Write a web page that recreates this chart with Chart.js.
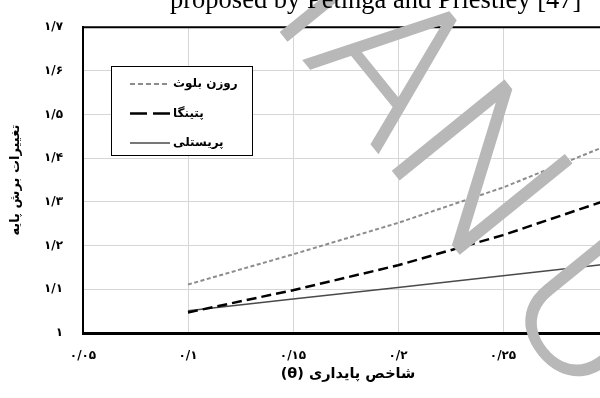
<!DOCTYPE html>
<html>
<head>
<meta charset="utf-8">
<script src="https://cdn.jsdelivr.net/npm/chart.js@4"></script>
<style>
    html, body { margin: 0; padding: 0; background: #fff; overflow: hidden; }
    #wrap { width: 600px; height: 398px; overflow: hidden; }
</style>
</head>
<body>
<div id="wrap"><canvas id="myChart" width="760" height="398"></canvas></div>
<script>
// stability index and base shear ratio for the three methods
const THETA = [0.1, 0.15, 0.2, 0.25, 0.3];
const ROSENBLUETH = [1.111, 1.18, 1.252, 1.333, 1.43];
const PETINGA = [1.047, 1.098, 1.155, 1.224, 1.305];
const PRIESTLEY = [1.051, 1.078, 1.104, 1.131, 1.158];
const SERIES_NAMES = ['روزن بلوث', 'پتینگا', 'پریستلی'];

const X_TICKS = ['۰/۰۵', '۰/۱', '۰/۱۵', '۰/۲', '۰/۲۵', '۰/۳', '۰/۳۵'];
const Y_TICKS = ['۱', '۱/۱', '۱/۲', '۱/۳', '۱/۴', '۱/۵', '۱/۶', '۱/۷'];
const X_TITLE = 'شاخص پایداری (θ)';
const Y_TITLE = 'تغییرات برش پایه';
const CAPTION = 'proposed by Petinga and Priestley [47]';
const WATERMARK = ['ACCEPTED MAN', 'USCRIPT'];

const FONT = "'DejaVu Sans', sans-serif";

function toPoints(values) {
    return THETA.map((t, i) => ({ x: t, y: values[i] }));
}

// legend box drawn inside the plot, sample line left of the name
const legendBox = {
    id: 'legendBox',
    afterDatasetsDraw(chart) {
        const ctx = chart.ctx;
        ctx.save();
        ctx.fillStyle = '#fff';
        ctx.fillRect(111, 66, 141, 89);
        ctx.strokeStyle = '#000';
        ctx.lineWidth = 1;
        ctx.strokeRect(111.5, 66.5, 141, 89);
        ctx.font = 'bold 12px ' + FONT;
        ctx.textBaseline = 'middle';
        ctx.textAlign = 'left';
        chart.data.datasets.forEach((ds, i) => {
            const y = 84 + i * 29.5;
            ctx.strokeStyle = ds.borderColor;
            ctx.lineWidth = ds.borderWidth;
            ctx.setLineDash(ds.legendDash);
            ctx.beginPath();
            ctx.moveTo(130, y);
            ctx.lineTo(170, y);
            ctx.stroke();
            ctx.setLineDash([]);
            ctx.fillStyle = '#000';
            ctx.fillText(ds.label, 173, y);
        });
        ctx.restore();
    }
};

// top frame line, x title, page watermark and the caption line above the chart
const decorations = {
    id: 'decorations',
    afterDraw(chart) {
        const ctx = chart.ctx;
        const area = chart.chartArea;
        ctx.save();
        ctx.strokeStyle = '#000';
        ctx.lineWidth = 2;
        ctx.beginPath();
        ctx.moveTo(area.left, area.top);
        ctx.lineTo(area.right, area.top);
        ctx.stroke();

        ctx.fillStyle = '#000';
        ctx.font = 'bold 14.5px ' + FONT;
        ctx.direction = 'rtl';
        ctx.textAlign = 'center';
        ctx.textBaseline = 'middle';
        ctx.fillText(X_TITLE, 348, 374);
        ctx.direction = 'ltr';

        // diagonal watermark, "A" of MANUSCRIPT anchored near the top
        ctx.save();
        ctx.translate(299, 56);
        ctx.rotate(51 * Math.PI / 180);
        ctx.font = "300 204px Roboto, 'Liberation Sans', sans-serif";
        ctx.fillStyle = '#b8b8b8';
        ctx.textAlign = 'left';
        ctx.textBaseline = 'alphabetic';
        const head = ctx.measureText('ACCEPTED M').width;
        const first = ctx.measureText(WATERMARK[0]).width;
        ctx.fillText(WATERMARK[0], -head, 0);
        ctx.fillText(WATERMARK[1], first - head + 42, 0);
        ctx.restore();

        ctx.fillStyle = '#000';
        ctx.font = "26.5px 'Liberation Serif', serif";
        ctx.textAlign = 'left';
        ctx.textBaseline = 'alphabetic';
        ctx.fillText(CAPTION, 170, 8);
        ctx.restore();
    }
};

const chart = new Chart(document.getElementById('myChart'), {
    type: 'line',
    data: {
        datasets: [{
            label: SERIES_NAMES[0],
            data: toPoints(ROSENBLUETH),
            borderColor: '#8c8c8c',
            borderWidth: 2,
            borderDash: [4, 2.5],
            legendDash: [5, 3]
        }, {
            label: SERIES_NAMES[1],
            data: toPoints(PETINGA),
            borderColor: '#000',
            borderWidth: 2.5,
            borderDash: [10, 5],
            legendDash: [17, 6]
        }, {
            label: SERIES_NAMES[2],
            data: toPoints(PRIESTLEY),
            borderColor: '#4a4a4a',
            borderWidth: 1.6,
            borderDash: [],
            legendDash: []
        }]
    },
    options: {
        responsive: false,
        animation: false,
        events: [],
        layout: { padding: { left: 0, top: 18, right: 47, bottom: 0 } },
        elements: {
            point: { radius: 0 },
            line: { tension: 0, fill: false, borderCapStyle: 'butt' }
        },
        plugins: {
            legend: { display: false },
            tooltip: { enabled: false }
        },
        scales: {
            x: {
                type: 'linear',
                min: 0.05,
                max: 0.35,
                afterFit: (scale) => { scale.height = 65; },
                grid: { color: '#d6d6d6', lineWidth: 1, drawTicks: false },
                border: { color: '#000', width: 3 },
                ticks: {
                    stepSize: 0.05,
                    padding: 16,
                    color: '#000',
                    font: { family: FONT, size: 12, weight: 'bold' },
                    maxRotation: 0,
                    callback: (value, index) => X_TICKS[index]
                }
            },
            y: {
                min: 1,
                max: 1.7,
                afterFit: (scale) => { scale.width = 83; },
                grid: { color: '#d6d6d6', lineWidth: 1, drawTicks: false },
                border: { color: '#000', width: 2 },
                ticks: {
                    stepSize: 0.1,
                    padding: 20,
                    color: '#000',
                    font: { family: FONT, size: 12, weight: 'bold' },
                    callback: (value, index) => Y_TICKS[index]
                },
                title: {
                    display: true,
                    text: Y_TITLE,
                    color: '#000',
                    padding: { top: 8, bottom: 0 },
                    font: { family: FONT, size: 13, weight: 'bold' }
                }
            }
        }
    },
    plugins: [legendBox, decorations]
});
</script>
</body>
</html>
